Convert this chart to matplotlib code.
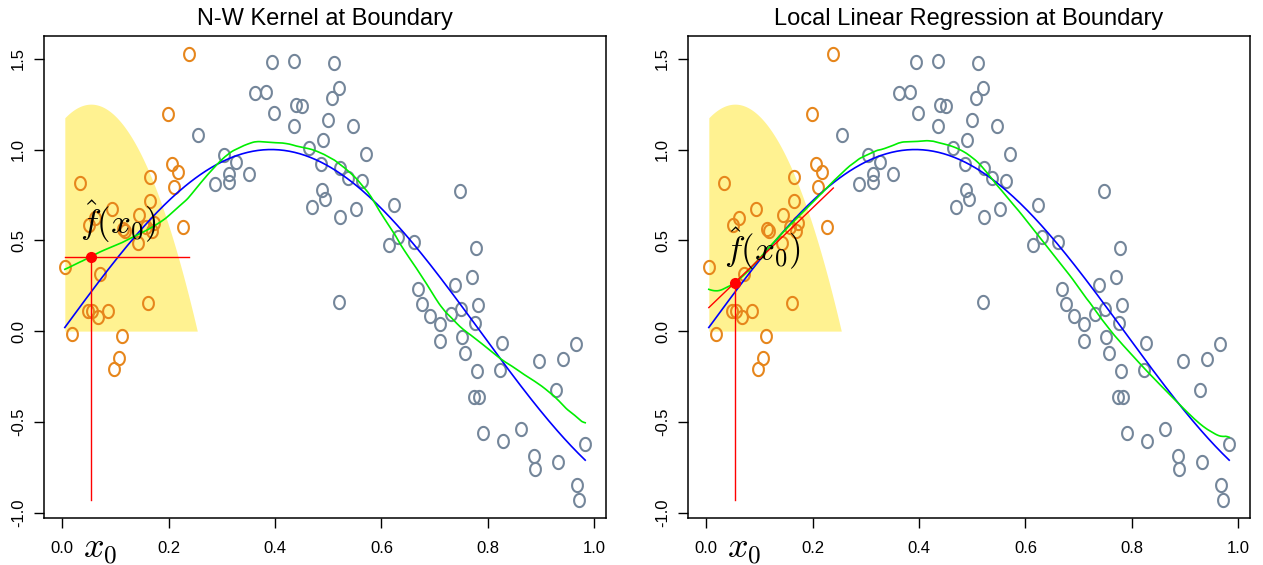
import numpy as np
import matplotlib.pyplot as plt
from matplotlib.path import Path

plt.rcParams['font.family'] = ['Liberation Sans', 'DejaVu Sans']
plt.rcParams['mathtext.fontset'] = 'cm'

# sample points inside the kernel window (drawn orange)
x_in = [0.239, 0.199, 0.206, 0.217, 0.166, 0.034, 0.211, 0.166, 0.094, 0.145,
        0.061, 0.050, 0.114, 0.118, 0.158, 0.172, 0.169, 0.227, 0.143, 0.072,
        0.005, 0.161, 0.048, 0.057, 0.086, 0.068, 0.019, 0.113, 0.106, 0.098]
y_in = [1.527, 1.194, 0.923, 0.878, 0.850, 0.814, 0.795, 0.717, 0.671, 0.640,
        0.622, 0.587, 0.565, 0.550, 0.576, 0.594, 0.549, 0.576, 0.487, 0.317,
        0.353, 0.155, 0.110, 0.110, 0.110, 0.075, -0.016, -0.027, -0.150, -0.210]

# sample points outside the window (drawn grey)
x_out = [0.256, 0.304, 0.288, 0.394, 0.435, 0.511, 0.363, 0.383, 0.521, 0.508,
         0.439, 0.450, 0.398, 0.499, 0.435, 0.546, 0.490, 0.463, 0.571, 0.327,
         0.486, 0.313, 0.351, 0.314, 0.523, 0.537, 0.563, 0.489, 0.494, 0.470,
         0.553, 0.522, 0.624, 0.632, 0.615, 0.662, 0.521, 0.669, 0.677, 0.747,
         0.777, 0.771, 0.738, 0.691, 0.710, 0.730, 0.750, 0.782, 0.775, 0.711,
         0.752, 0.757, 0.827, 0.780, 0.822, 0.897, 0.941, 0.966, 0.929, 0.774,
         0.783, 0.791, 0.829, 0.863, 0.887, 0.888, 0.932, 0.983, 0.968, 0.972]
y_out = [1.079, 0.969, 0.808, 1.481, 1.490, 1.476, 1.311, 1.317, 1.338, 1.284,
         1.243, 1.240, 1.201, 1.165, 1.130, 1.130, 1.055, 1.006, 0.978, 0.933,
         0.918, 0.868, 0.863, 0.823, 0.900, 0.845, 0.828, 0.777, 0.728, 0.686,
         0.673, 0.631, 0.695, 0.521, 0.476, 0.490, 0.161, 0.234, 0.148, 0.773,
         0.455, 0.298, 0.252, 0.082, 0.038, 0.093, 0.124, 0.143, 0.046, -0.055,
         -0.035, -0.119, -0.064, -0.219, -0.214, -0.163, -0.155, -0.071, -0.327, -0.364,
         -0.364, -0.561, -0.603, -0.539, -0.686, -0.759, -0.720, -0.620, -0.845, -0.931]

x0 = 0.054      # target point
lam = 0.2       # Epanechnikov window half-width
kheight = 1.25  # height of the drawn kernel
titles = ['N-W Kernel at Boundary', 'Local Linear Regression at Boundary']

x = np.array(x_in + x_out)
y = np.array(y_in + y_out)
xin = np.array(x_in)


def epan(t):
    return np.where(np.abs(t) < 1, 0.75 * (1 - t ** 2), 0.0)


def nw_fit(g):
    w = epan((g - x) / lam)
    return np.sum(w * y) / np.sum(w)


def loclin_fit(g):
    w = epan((g - x) / lam)
    X = np.column_stack([np.ones_like(x), x - g])
    b = np.linalg.solve(X.T @ (w[:, None] * X), X.T @ (w * y))
    return b  # intercept (fit at g) and slope


xg = np.linspace(x.min(), x.max(), 300)
fits = [np.array([nw_fit(g) for g in xg]),
        np.array([loclin_fit(g)[0] for g in xg])]

# an upright "O" shaped marker, like R's plotting characters
th = np.linspace(0, 2 * np.pi, 60)
o_mark = Path(np.column_stack([0.82 * np.cos(th), np.sin(th)]))

orange = '#E6861C'
grey = '#74869A'

fig = plt.figure(figsize=(12.63, 5.65), dpi=100)
rx = x.max() - x.min()
ry = y.max() - y.min()

for i in range(2):
    ax = fig.add_axes([(44 + 644 * i) / 1263, 47 / 565, 562 / 1263, 482 / 565])

    # kernel shading
    kx = np.linspace(x.min(), x0 + lam, 200)
    ky = kheight * (1 - ((kx - x0) / lam) ** 2)
    ax.fill_between(kx, 0, ky, color='#FFF291', lw=0, zorder=1)

    ax.plot(x_out, y_out, ls='none', marker=o_mark, ms=9.5, mew=1.5,
            mfc='none', mec=grey, zorder=2)
    ax.plot(x_in, y_in, ls='none', marker=o_mark, ms=9.5, mew=1.5,
            mfc='none', mec=orange, zorder=2)

    ax.plot(xg, np.sin(4 * xg), color='#0000FF', lw=1.2, zorder=3)
    ax.plot(xg, fits[i], color='#00EE00', lw=1.2, zorder=3)

    if i == 0:
        fhat = nw_fit(x0)
        ax.plot([xin.min(), xin.max()], [fhat, fhat], color='red', lw=1.0, zorder=4)
    else:
        b0, b1 = loclin_fit(x0)
        fhat = b0
        seg = np.array([xin.min(), xin.max()])
        ax.plot(seg, b0 + b1 * (seg - x0), color='red', lw=1.0, zorder=4)
    ax.plot([x0, x0], [y.min(), fhat], color='red', lw=1.0, zorder=4)
    ax.plot([x0], [fhat], 'o', color='red', ms=7, zorder=5)

    ax.text(x0 + 0.052, fhat + 0.19, r'$\hat{f}(x_0)$', fontsize=25,
            ha='center', va='center', zorder=6)
    ax.annotate(r'$x_0$', xy=(x0, 0), xycoords=('data', 'axes fraction'),
                xytext=(-6, -23), textcoords='offset points',
                ha='left', va='center', fontsize=26, annotation_clip=False)

    ax.set_xlim(x.min() - 0.04 * rx, x.max() + 0.04 * rx)
    ax.set_ylim(y.min() - 0.04 * ry, y.max() + 0.04 * ry)
    ax.set_xticks(np.arange(0, 1.01, 0.2))
    ax.set_xticklabels(['0.0', '0.2', '0.4', '0.6', '0.8', '1.0'])
    ax.set_yticks(np.arange(-1.0, 1.51, 0.5))
    ax.set_yticklabels(['-1.0', '-0.5', '0.0', '0.5', '1.0', '1.5'],
                       rotation=90, va='center')
    ax.tick_params(direction='out', length=7.5, width=1.0, labelsize=12)
    ax.tick_params(axis='x', pad=9)
    ax.tick_params(axis='y', pad=5.5)
    for s in ax.spines.values():
        s.set_linewidth(1.1)
    ax.set_title(titles[i], fontsize=17, pad=8)

fig.savefig('out.png', dpi=100)
